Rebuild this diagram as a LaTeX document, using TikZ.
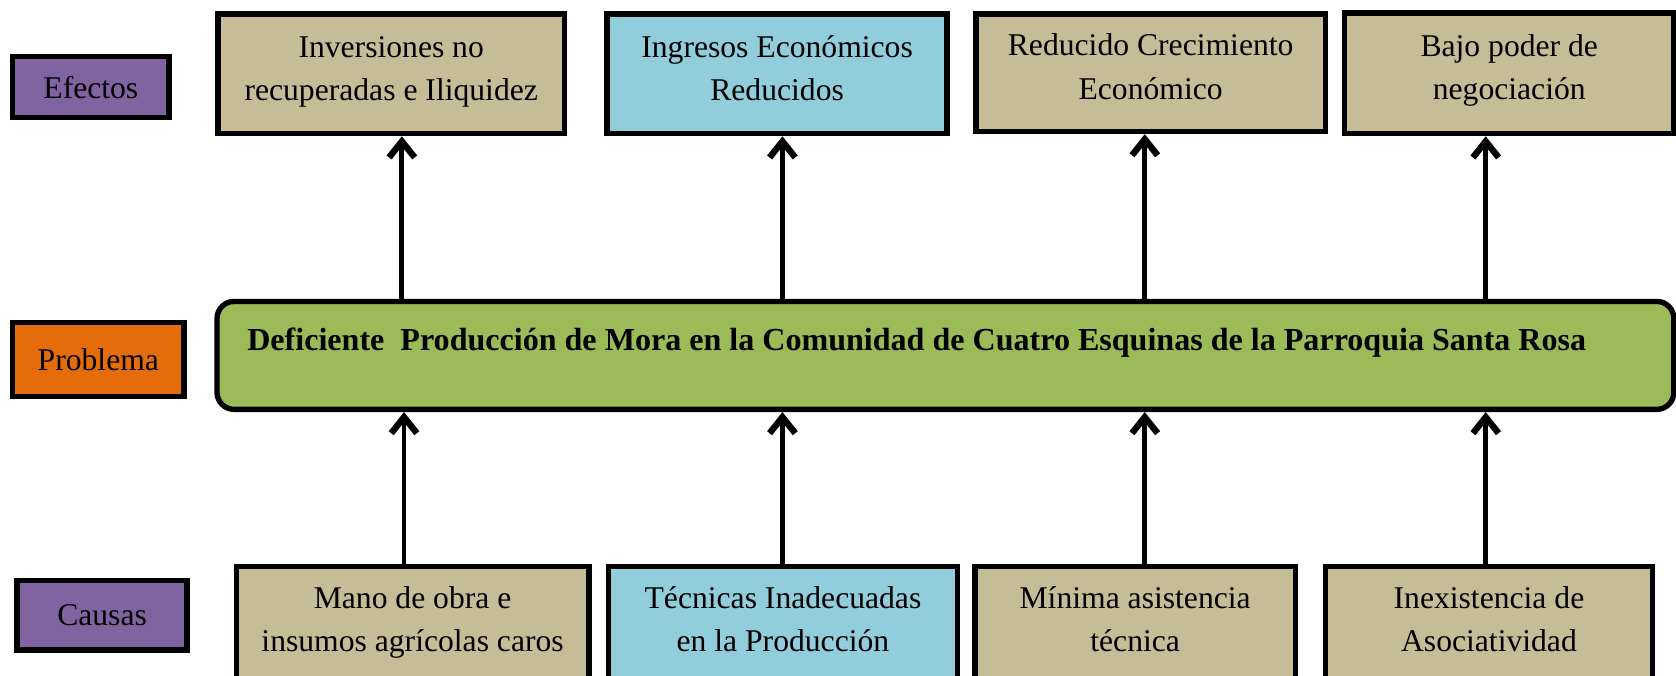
\documentclass[tikz,border=0pt]{standalone}
\usepackage{fontspec}
\setmainfont{Liberation Serif}
\usetikzlibrary{arrows.meta}
\definecolor{purp}{HTML}{8064A2}
\definecolor{orng}{HTML}{E46C0A}
\definecolor{grn}{HTML}{9BBB59}
\definecolor{tan}{HTML}{C4BD97}
\definecolor{lblue}{HTML}{92CDDC}
\renewcommand{\arraystretch}{1.04}
\newcommand{\twolines}[2]{\raisebox{0pt}[\height][\dimexpr\depth+3.5pt\relax]{\begin{tabular}{@{}c@{}}#1\\#2\end{tabular}}}
\begin{document}
\begin{tikzpicture}[x=0.5pt,y=-0.5pt,
  box/.style={draw=black, line width=2.5pt, rectangle, inner sep=0pt, align=center,
    font=\fontsize{14.8}{19.5}\selectfont},
  arr/.style={line width=2.3pt, -{Straight Barb[length=7.5pt,width=12pt,line width=3pt]}}]
\useasboundingbox (0,0) rectangle (1568,632);
% side labels
\node[box, fill=purp, minimum width=73pt, minimum height=28.5pt] (efe) at (85,81.5) {Efectos};
\node[box, fill=orng, minimum width=80pt, minimum height=34.5pt] (pro) at (92,336.5) {Problema};
\node[box, fill=purp, minimum width=79.5pt, minimum height=32.5pt] (cau) at (95.5,575.5) {Causas};
% effects
\node[box, fill=tan, minimum width=162pt, minimum height=56pt] (e1) at (366,69) {\twolines{Inversiones no}{recuperadas e Iliquidez}};
\node[box, fill=lblue, minimum width=159pt, minimum height=56pt] (e2) at (727,69) {\twolines{Ingresos Económicos}{Reducidos}};
\node[box, fill=tan, minimum width=163.5pt, minimum height=55pt] (e3) at (1076.5,68) {\twolines{Reducido Crecimiento}{Económico}};
\node[box, fill=tan, minimum width=154pt, minimum height=56.5pt] (e4) at (1412,68.5) {\twolines{Bajo poder de}{negociación}};
% problem
\node[box, fill=grn, rounded corners=8pt, minimum width=681.5pt, minimum height=50.5pt] (g) at (884.5,332.5) {};
\node[anchor=west, inner sep=0pt, font=\fontsize{15}{18}\selectfont\bfseries] (gt) at (231,321)
  {Deficiente\ \ Producción de Mora en la Comunidad de Cuatro Esquinas de la Parroquia Santa Rosa};
% causes
\node[box, fill=tan, minimum width=165pt, minimum height=55pt] (c1) at (386,585) {\twolines{Mano de obra e}{insumos agrícolas caros}};
\node[box, fill=lblue, minimum width=163.5pt, minimum height=55pt] (c2) at (732.5,585) {\twolines{Técnicas Inadecuadas}{en la Producción}};
\node[box, fill=tan, minimum width=150pt, minimum height=55pt] (c3) at (1062,585) {\twolines{Mínima asistencia}{técnica}};
\node[box, fill=tan, minimum width=153pt, minimum height=55pt] (c4) at (1393,585) {\twolines{Inexistencia de}{Asociatividad}};
% arrow columns
\coordinate (u1) at (376,0);
\coordinate (u2) at (732,0);
\coordinate (u3) at (1071,0);
\coordinate (u4) at (1390,0);
\coordinate (d1) at (378,0);
\coordinate (d2) at (732,0);
\coordinate (d3) at (1071,0);
\coordinate (d4) at (1390,0);
\draw[arr] (g.north -| u1) -- (e1.south -| u1);
\draw[arr] (g.north -| u2) -- (e2.south -| u2);
\draw[arr] (g.north -| u3) -- (e3.south -| u3);
\draw[arr] (g.north -| u4) -- (e4.south -| u4);
\draw[arr] (c1.north -| d1) -- (g.south -| d1);
\draw[arr] (c2.north -| d2) -- (g.south -| d2);
\draw[arr] (c3.north -| d3) -- (g.south -| d3);
\draw[arr] (c4.north -| d4) -- (g.south -| d4);
\end{tikzpicture}
\end{document}
